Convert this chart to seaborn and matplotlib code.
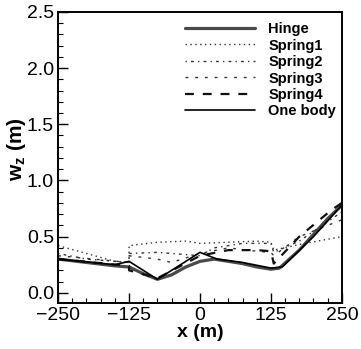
import matplotlib
matplotlib.use("Agg")
import matplotlib.pyplot as plt
import seaborn as sns
import pandas as pd
from matplotlib.ticker import MultipleLocator

sns.set_theme(style="white")
plt.rcParams['font.family'] = ['Liberation Sans', 'DejaVu Sans']
plt.rcParams['mathtext.fontset'] = 'custom'
plt.rcParams['mathtext.bf'] = 'Liberation Sans:bold'
plt.rcParams['mathtext.rm'] = 'Liberation Sans'
plt.rcParams['text.color'] = 'black'
plt.rcParams['axes.labelcolor'] = 'black'
plt.rcParams['xtick.color'] = 'black'
plt.rcParams['ytick.color'] = 'black'

# ---- data ----
hinge_x = [-250, -200, -150, -125, -100, -75, -50, -25, 0, 25, 50, 75, 100, 125, 140, 175, 200, 225, 250]
hinge_y = [0.30, 0.27, 0.24, 0.23, 0.17, 0.12, 0.16, 0.23, 0.28, 0.30, 0.28, 0.26, 0.23, 0.21, 0.22, 0.38, 0.52, 0.66, 0.78]

spring1_x = [-250, -200, -150, -125, -125, -75, -25, 0, 50, 100, 125, 130, 175, 250]
spring1_y = [0.42, 0.35, 0.28, 0.27, 0.42, 0.45, 0.46, 0.44, 0.45, 0.46, 0.45, 0.38, 0.43, 0.50]

spring2_x = [-250, -200, -125, -125, -75, -50, 0, 25, 75, 125, 130, 175, 250]
spring2_y = [0.35, 0.30, 0.27, 0.35, 0.36, 0.35, 0.33, 0.40, 0.44, 0.44, 0.36, 0.46, 0.72]

spring3_x = [-250, -125, -125, -75, -50, 0, 50, 100, 125, 130, 175, 250]
spring3_y = [0.33, 0.27, 0.33, 0.30, 0.27, 0.35, 0.40, 0.37, 0.36, 0.33, 0.50, 0.65]

spring4_x = [-250, -125, -125, -75, 0, 50, 100, 125, 130, 175, 230, 250]
spring4_y = [0.30, 0.24, 0.20, 0.13, 0.33, 0.38, 0.38, 0.37, 0.26, 0.50, 0.73, 0.80]

onebody_x = [-250, -150, -125, -75, 0, 30, 75, 125, 145, 200, 250]
onebody_y = [0.30, 0.25, 0.28, 0.12, 0.36, 0.30, 0.27, 0.22, 0.23, 0.50, 0.78]

series = [
    ("Hinge", hinge_x, hinge_y),
    ("Spring1", spring1_x, spring1_y),
    ("Spring2", spring2_x, spring2_y),
    ("Spring3", spring3_x, spring3_y),
    ("Spring4", spring4_x, spring4_y),
    ("One body", onebody_x, onebody_y),
]

styles = {
    "Hinge": dict(color="#4a4a4a", lw=2.3, ls="-"),
    "Spring1": dict(color="#333333", lw=1.0, ls=(0, (1, 2.5))),
    "Spring2": dict(color="#333333", lw=1.0, ls=(0, (1, 3, 2, 3))),
    "Spring3": dict(color="#333333", lw=1.0, ls=(0, (2, 5))),
    "Spring4": dict(color="#111111", lw=1.6, ls=(0, (4, 4))),
    "One body": dict(color="#000000", lw=1.2, ls="-"),
}

fig = plt.figure(figsize=(3.61, 3.49), dpi=100)
ax = fig.add_axes([0.161, 0.132, 0.786, 0.834])

for name, xs, ys in series:
    df = pd.DataFrame({"x": xs, "y": ys})
    st = styles[name]
    sns.lineplot(data=df, x="x", y="y", sort=False, estimator=None,
                 ax=ax, label=name, color=st["color"], linewidth=st["lw"],
                 linestyle=st["ls"])

ax.set_xlim(-250, 250)
ax.set_ylim(-0.09, 2.5)
ax.set_xticks([-250, -125, 0, 125, 250])
ax.set_yticks([0.0, 0.5, 1.0, 1.5, 2.0, 2.5])
ax.set_yticklabels(["0.0", "0.5", "1.0", "1.5", "2.0", "2.5"])
ax.xaxis.set_minor_locator(MultipleLocator(25))
ax.yaxis.set_minor_locator(MultipleLocator(0.1))
ax.tick_params(which="both", direction="in", bottom=True, left=True,
               top=False, right=False, color="black")
ax.tick_params(which="major", length=7, width=1.0, labelsize=14, pad=3)
ax.tick_params(which="minor", length=3.5, width=0.8)
for sp in ax.spines.values():
    sp.set_color("black")
    sp.set_linewidth(1.4)

ax.set_xlabel("x (m)", fontsize=14, fontweight="bold", labelpad=0)
ax.set_ylabel(r"$\mathbf{w}_\mathbf{z}$ (m)", fontsize=15, fontweight="bold", labelpad=0)
ax.yaxis.set_label_coords(-0.105, 0.53)

leg = ax.legend(loc="upper right", frameon=False, prop=dict(size=10.5, weight="bold"),
                handlelength=4.8, handletextpad=0.9, labelspacing=0.17,
                borderaxespad=0.0, bbox_to_anchor=(1.0, 0.985))

fig.savefig("out.png", dpi=100)
